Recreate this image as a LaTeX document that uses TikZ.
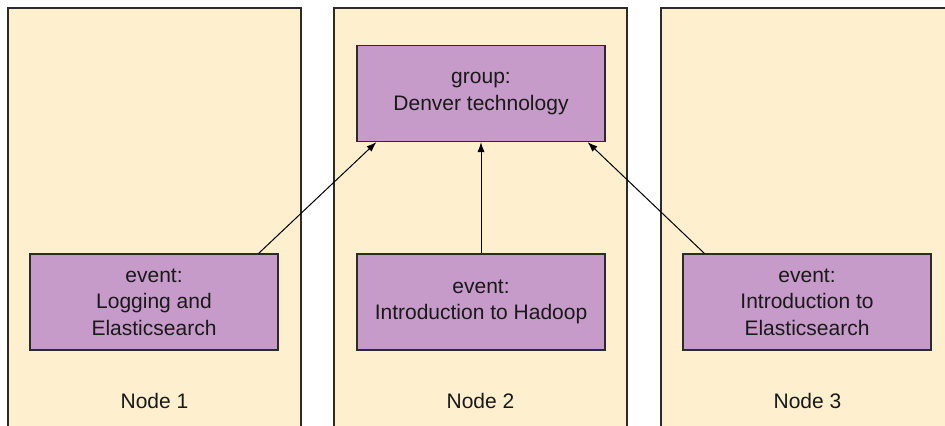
\documentclass[tikz,border=0pt]{standalone}
\usepackage{fontspec}
\setmainfont{Liberation Sans}
\usetikzlibrary{arrows.meta}
\definecolor{colfill}{HTML}{FEF0CE}
\definecolor{boxfill}{HTML}{C69BC9}
\definecolor{edge}{HTML}{2B2B2B}
\tikzset{
  column/.style={fill=colfill, draw=edge, line width=0.7pt},
  entity/.style={draw=edge, fill=boxfill, line width=0.6pt, minimum width=124pt, minimum height=48pt,
    align=center, inner sep=0pt, text=black!90, font=\fontsize{10.5}{13.3}\selectfont},
  link/.style={-{Latex[length=5pt,width=3.6pt]}, line width=0.5pt},
  hostlabel/.style={text=black!90, font=\fontsize{10.5}{13.3}\selectfont}
}
\begin{document}
\begin{tikzpicture}[x=0.5pt,y=-0.5pt]
    \clip (0,0) rectangle (945,425);
    \foreach \x/\n in {8/1, 334/2, 661/3} {
      \draw[column] (\x, 8) rectangle (\x+293, 440);
      \node[hostlabel] (host\n) at (\x+146.5, 401) {Node \n};
    }
    \node[entity] (group) at (481, 93.5) {group:\\Denver technology};
    \node[entity] (ev1) at (154, 302) {event:\\Logging and\\Elasticsearch};
    \node[entity] (ev2) at (481, 302) {event:\\Introduction to Hadoop};
    \node[entity] (ev3) at (807, 302) {event:\\Introduction to\\Elasticsearch};
    \draw[link] ([xshift=-10pt]ev1.north east) -- ([xshift=10pt]group.south west);
    \draw[link] (ev2.north) -- (group.south);
    \draw[link] ([xshift=11pt]ev3.north west) -- ([xshift=-9pt]group.south east);
  \end{tikzpicture}
\end{document}
